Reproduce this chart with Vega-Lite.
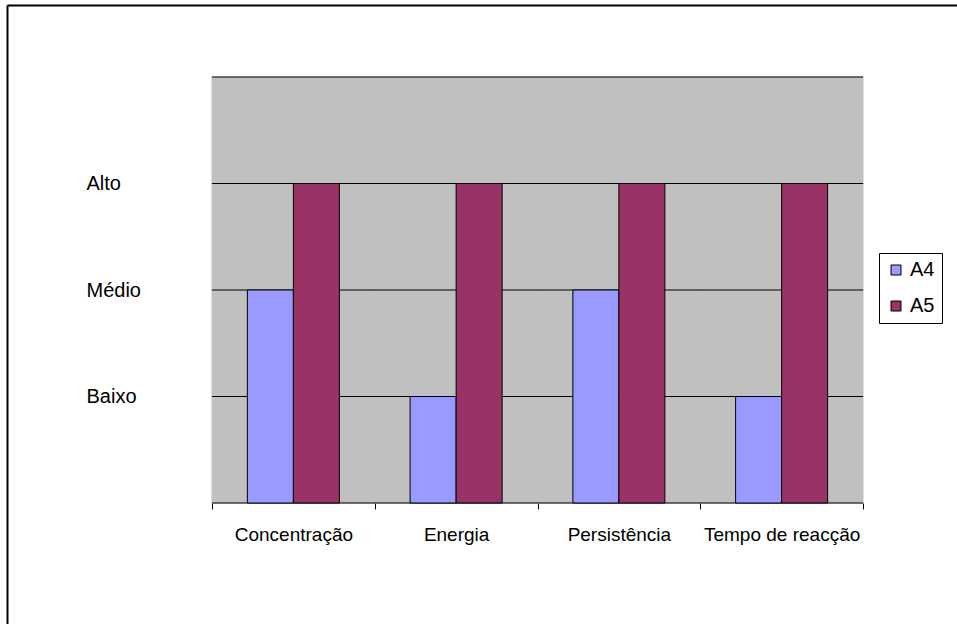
{
  "$schema": "https://vega.github.io/schema/vega-lite/v6.json",
  "width": 950,
  "height": 619,
  "autosize": {"type": "none"},
  "padding": {"left": 7, "top": 5, "right": 0, "bottom": 0},
  "background": "white",
  "config": {
    "view": {"stroke": null},
    "font": "Liberation Sans"
  },
  "datasets": {
    "categorias": [
      {"categoria": "Concentração"},
      {"categoria": "Energia"},
      {"categoria": "Persistência"},
      {"categoria": "Tempo de reacção"}
    ],
    "avaliacoes": [
      {"categoria": "Concentração", "serie": "A4", "valor": 2},
      {"categoria": "Concentração", "serie": "A5", "valor": 3},
      {"categoria": "Energia", "serie": "A4", "valor": 1},
      {"categoria": "Energia", "serie": "A5", "valor": 3},
      {"categoria": "Persistência", "serie": "A4", "valor": 2},
      {"categoria": "Persistência", "serie": "A5", "valor": 3},
      {"categoria": "Tempo de reacção", "serie": "A4", "valor": 1},
      {"categoria": "Tempo de reacção", "serie": "A5", "valor": 3}
    ]
  },
  "resolve": {"axis": {"x": "independent", "y": "independent"}},
  "layer": [
    {
      "description": "Grey plot area, one band per category, plus the chart frame drawn by the top and left axis lines",
      "data": {"name": "categorias"},
      "mark": {"type": "bar", "fill": "#C0C0C0", "stroke": "#C0C0C0", "strokeWidth": 1, "width": {"band": 1}},
      "encoding": {
        "x": {
          "field": "categoria",
          "type": "nominal",
          "scale": {
            "domain": ["Concentração", "Energia", "Persistência", "Tempo de reacção"],
            "paddingInner": 0,
            "paddingOuter": 0.918587,
            "align": 0.685619
          },
          "axis": {
            "orient": "top",
            "title": null,
            "labels": false,
            "ticks": false,
            "grid": false,
            "domain": true,
            "domainColor": "black",
            "domainWidth": 2
          }
        },
        "y": {
          "datum": 4,
          "type": "quantitative",
          "scale": {"domain": [-1.13615, 4.67606], "nice": false, "zero": false},
          "axis": {
            "orient": "left",
            "title": null,
            "values": [1, 2, 3],
            "labelExpr": "datum.value == 1 ? 'Baixo' : datum.value == 2 ? 'Médio' : 'Alto'",
            "ticks": false,
            "tickSize": 0,
            "grid": false,
            "domain": true,
            "domainColor": "black",
            "domainWidth": 2,
            "labelAlign": "left",
            "labelBaseline": "middle",
            "labelPadding": -79,
            "labelFontSize": 20,
            "labelColor": "black",
            "labelLimit": 0
          }
        },
        "y2": {"datum": 0}
      }
    },
    {
      "description": "Horizontal gridlines at each level, with the baseline at zero",
      "data": {"name": "categorias"},
      "layer": [
        {
          "mark": {"type": "tick", "size": 163, "thickness": 1, "color": "black", "opacity": 1},
          "encoding": {
            "x": {"field": "categoria", "type": "nominal", "axis": null},
            "y": {"datum": 0, "type": "quantitative", "axis": null}
          }
        },
        {
          "mark": {"type": "tick", "size": 163, "thickness": 1, "color": "black", "opacity": 1},
          "encoding": {
            "x": {"field": "categoria", "type": "nominal", "axis": null},
            "y": {"datum": 1, "type": "quantitative", "axis": null}
          }
        },
        {
          "mark": {"type": "tick", "size": 163, "thickness": 1, "color": "black", "opacity": 1},
          "encoding": {
            "x": {"field": "categoria", "type": "nominal", "axis": null},
            "y": {"datum": 2, "type": "quantitative", "axis": null}
          }
        },
        {
          "mark": {"type": "tick", "size": 163, "thickness": 1, "color": "black", "opacity": 1},
          "encoding": {
            "x": {"field": "categoria", "type": "nominal", "axis": null},
            "y": {"datum": 3, "type": "quantitative", "axis": null}
          }
        },
        {
          "mark": {"type": "tick", "size": 163, "thickness": 1, "color": "black", "opacity": 1},
          "encoding": {
            "x": {"field": "categoria", "type": "nominal", "axis": null},
            "y": {"datum": 4, "type": "quantitative", "axis": null}
          }
        }
      ]
    },
    {
      "description": "Grouped bars for the two series",
      "data": {"name": "avaliacoes"},
      "mark": {"type": "bar", "stroke": "black", "strokeWidth": 1},
      "encoding": {
        "x": {
          "field": "categoria",
          "type": "nominal",
          "axis": {
            "orient": "bottom",
            "offset": -121,
            "title": null,
            "domain": false,
            "grid": false,
            "ticks": true,
            "tickBand": "extent",
            "tickSize": 6,
            "tickColor": "black",
            "labelAngle": 0,
            "labelFontSize": 19,
            "labelColor": "black",
            "labelPadding": 16,
            "labelLimit": 0
          }
        },
        "xOffset": {
          "field": "serie",
          "type": "nominal",
          "scale": {"paddingInner": 0, "paddingOuter": 0.769}
        },
        "y": {"field": "valor", "type": "quantitative", "axis": null},
        "fill": {
          "field": "serie",
          "type": "nominal",
          "scale": {"domain": ["A4", "A5"], "range": ["#9999FF", "#993366"]},
          "legend": {
            "title": null,
            "orient": "none",
            "legendX": 872,
            "legendY": 248,
            "direction": "vertical",
            "strokeColor": "black",
            "fillColor": "white",
            "padding": 7,
            "symbolType": "square",
            "symbolSize": 100,
            "symbolStrokeColor": "black",
            "symbolStrokeWidth": 1,
            "labelFontSize": 20,
            "labelColor": "black",
            "labelOffset": 4,
            "rowPadding": 16
          }
        }
      }
    }
  ]
}
